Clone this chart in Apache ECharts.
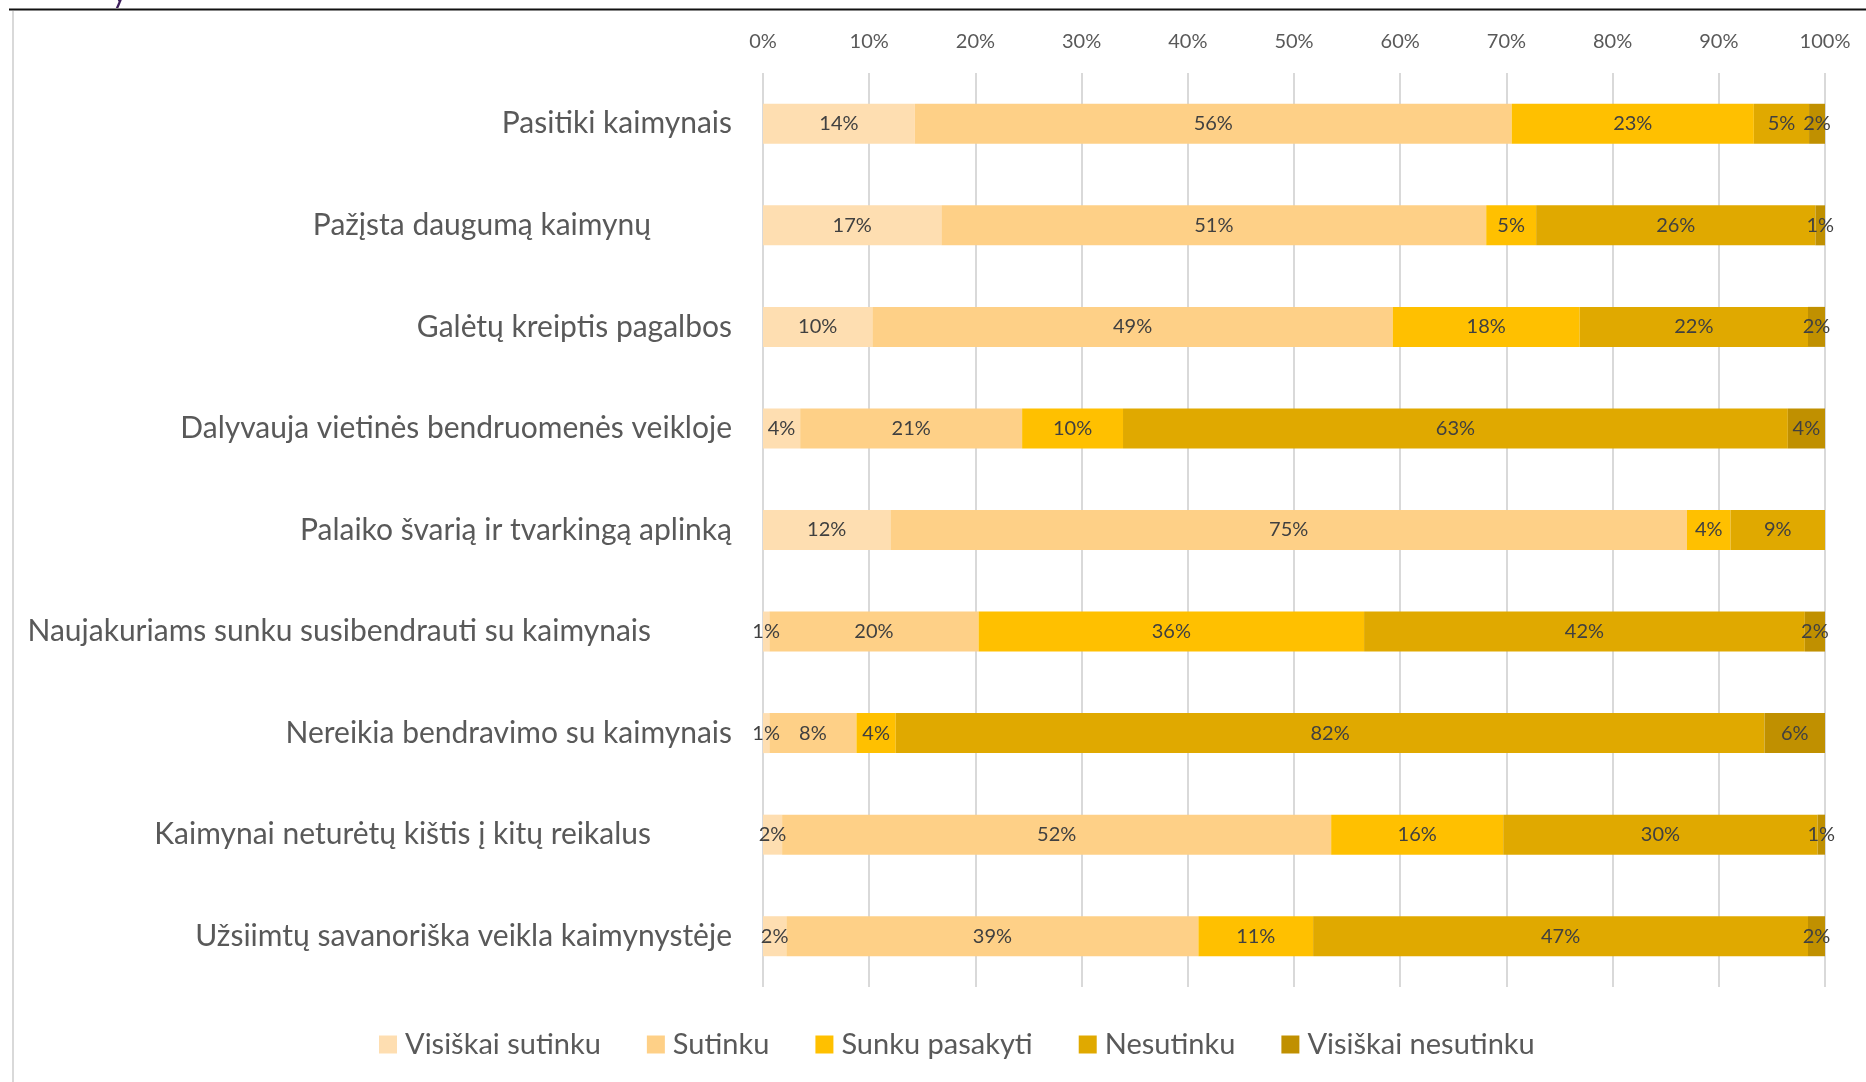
<!DOCTYPE html>
<html>
<head>
<meta charset="utf-8">
<script src="https://cdn.jsdelivr.net/npm/echarts@6/dist/echarts.min.js"></script>
<style>
html,body{margin:0;padding:0;background:#fff;}
#c{width:1866px;height:1082px;}
</style>
</head>
<body>
<div id="c"></div>
<script>
const categories = [
  'Pasitiki kaimynais',
  'Pažįsta daugumą kaimynų',
  'Galėtų kreiptis pagalbos',
  'Dalyvauja vietinės bendruomenės veikloje',
  'Palaiko švarią ir tvarkingą aplinką',
  'Naujakuriams sunku susibendrauti su kaimynais',
  'Nereikia bendravimo su kaimynais',
  'Kaimynai neturėtų kištis į kitų reikalus',
  'Užsiimtų savanoriška veikla kaimynystėje'
];
const seriesNames = ['Visiškai sutinku', 'Sutinku', 'Sunku pasakyti', 'Nesutinku', 'Visiškai nesutinku'];
const visiskaiSutinku   = [14.3, 16.8, 10.3, 3.5, 12.0, 0.6, 0.6, 1.8, 2.2];
const sutinku           = [56.2, 51.3, 49.0, 20.9, 75.0, 19.7, 8.2, 51.7, 38.8];
const sunkuPasakyti     = [22.8, 4.7, 17.6, 9.5, 4.1, 36.3, 3.7, 16.2, 10.8];
const nesutinku         = [5.2, 26.3, 21.5, 62.6, 8.9, 41.5, 81.8, 29.6, 46.6];
const visiskaiNesutinku = [1.5, 0.9, 1.6, 3.5, 0, 1.9, 5.7, 0.7, 1.6];
const tickValues = [0, 10, 20, 30, 40, 50, 60, 70, 80, 90, 100];

const seriesData = [visiskaiSutinku, sutinku, sunkuPasakyti, nesutinku, visiskaiNesutinku];
const colors = ['#FEDEB1', '#FED087', '#FFC000', '#E0A900', '#C09000'];
const padRight = {1: true, 5: true, 7: true};
const FONT = 'Lato, "Open Sans", sans-serif';

const chart = echarts.init(document.getElementById('c'), null, {renderer: 'canvas'});
chart.setOption({
  animation: false,
  color: colors,
  textStyle: {fontFamily: FONT},
  grid: {left: 763, right: 41, top: 73, bottom: 95, containLabel: false},
  xAxis: {
    type: 'value', position: 'top', min: tickValues[0], max: tickValues[tickValues.length - 1], interval: 10,
    axisLine: {show: false}, axisTick: {show: false},
    splitLine: {show: true, lineStyle: {color: '#D9D9D9', width: 2}},
    axisLabel: {formatter: '{value}%', color: '#595959', fontSize: 20, fontFamily: FONT, margin: 21}
  },
  yAxis: {
    type: 'category', inverse: true, data: categories,
    axisLine: {show: false}, axisTick: {show: false}, splitLine: {show: false},
    axisLabel: {
      color: '#595959', fontSize: 30, fontFamily: FONT, margin: 31,
      formatter: (v, i) => padRight[i] ? '{p|' + v + '}' : v,
      rich: {p: {color: '#595959', fontSize: 30, fontFamily: FONT, padding: [0, 81, 0, 0]}}
    }
  },
  legend: {
    bottom: 18, left: 374, itemWidth: 18, itemHeight: 18, itemGap: 46, icon: 'rect',
    textStyle: {color: '#595959', fontSize: 29, fontFamily: FONT, padding: [0, 0, 0, 3]},
    data: seriesNames
  },
  series: seriesNames.map((n, k) => ({
    name: n, type: 'bar', stack: 'total', barWidth: 40,
    data: seriesData[k],
    itemStyle: {color: colors[k]},
    label: {
      show: true, position: 'inside', color: '#404040', fontSize: 20, fontFamily: FONT,
      formatter: p => p.value > 0 ? Math.round(p.value) + '%' : ''
    },
    emphasis: {disabled: true}
  })),
  graphic: [
    {type: 'text', left: 112, top: -22, style: {text: 'y', font: '30px ' + FONT, fill: '#3E1F5C'}, silent: true},
    {type: 'rect', shape: {x: 9, y: 8.5, width: 1857, height: 2}, style: {fill: '#111'}, silent: true},
    {type: 'rect', shape: {x: 12, y: 11, width: 2, height: 1071}, style: {fill: '#D9D9D9'}, silent: true}
  ]
});
</script>
</body>
</html>
